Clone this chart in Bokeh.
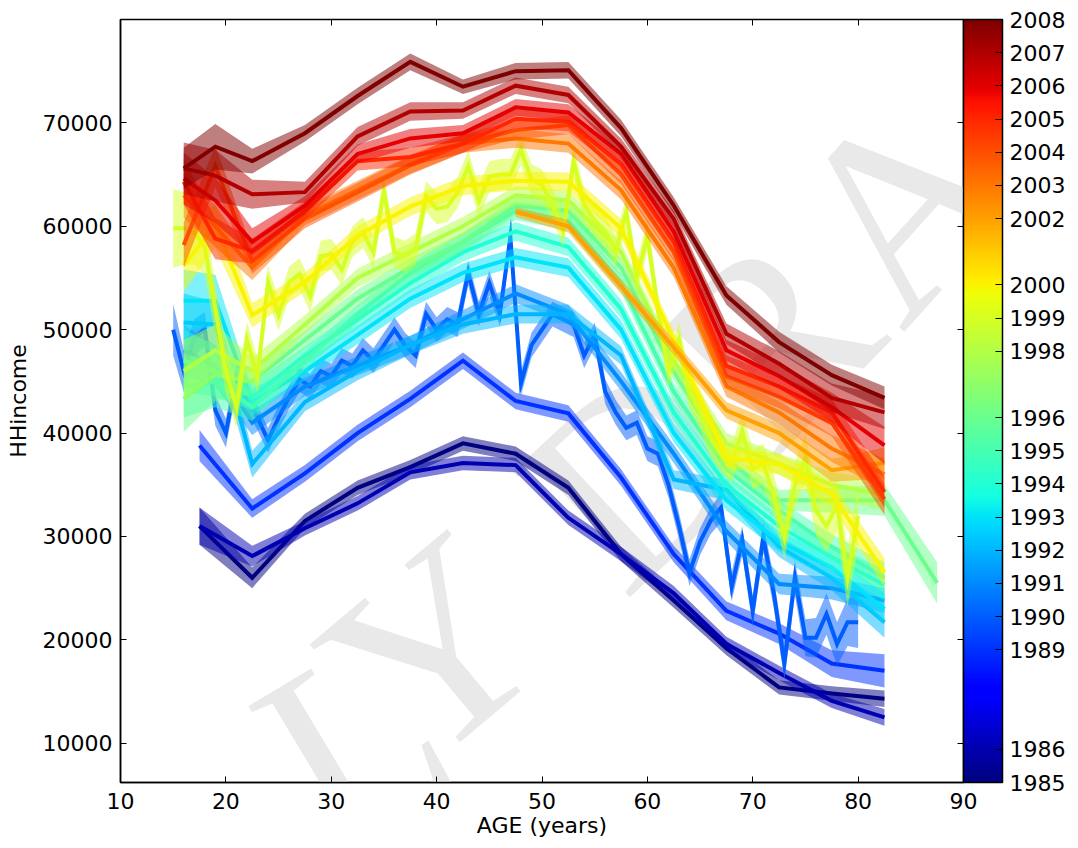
import numpy as np
from bokeh.plotting import figure
from bokeh.models import (ColumnDataSource, LinearAxis, FixedTicker, ColorBar,
                          LinearColorMapper, Label, PrintfTickFormatter, Range1d)
from bokeh.embed import file_html
from bokeh.resources import INLINE

# ---------------- data (incomes and band half-widths in thousands of $) ----------------
AGE_16 = [16, 19, 22.5, 27.5, 32.5, 37.5, 42.5, 47.5, 52.5, 57.5, 62.5, 67.5, 72.5, 77.5, 82.5]
AGE_17 = [17.5, 22.5, 27.5, 32.5, 37.5, 42.5, 47.5, 52.5, 57.5, 62.5, 67.5, 72.5, 77.5, 82.5]
AGE_16_EXT = [16, 19, 22.5, 27.5, 32.5, 37.5, 42.5, 47.5, 52.5, 57.5, 62.5, 67.5, 72.5, 77.5, 82.5, 87.5]
AGE_47 = [47.5, 52.5, 57.5, 62.5, 67.5, 72.5, 77.5, 82.5]
AGE_SINGLE = list(range(15, 81))

inc_1985 = [31.0, 26.0, 31.5, 34.7, 36.7, 39.0, 38.0, 34.7, 28.3, 23.8, 19.2, 15.4, 14.8, 14.3]
err_1985 = [1.8, 1.0, 0.7, 0.7, 0.7, 0.7, 0.7, 0.7, 0.7, 0.7, 0.7, 0.7, 0.7, 0.8]
inc_1986 = [31.0, 28.1, 30.8, 33.2, 36.2, 37.1, 36.9, 31.8, 28.3, 24.5, 19.6, 16.8, 14.1, 12.5]
err_1986 = [1.8, 1.0, 0.7, 0.7, 0.7, 0.7, 0.7, 0.7, 0.7, 0.7, 0.7, 0.7, 0.7, 0.8]
inc_1989 = [38.8, 32.7, 36.1, 40.0, 43.3, 47.0, 43.1, 41.9, 35.7, 28.3, 22.8, 20.6, 17.7, 17.0]
err_1989 = [1.5, 0.9, 0.8, 0.8, 0.8, 0.8, 0.8, 0.8, 0.8, 0.8, 0.9, 1.0, 1.3, 1.6]
inc_1990 = [50.0, 46.0, 49.2, 50.1, 42.2, 40.0, 45.4, 43.2, 41.5, 39.3, 41.5, 43.5, 45.2, 44.5,
            46.0, 45.5, 47.0, 46.5, 48.0, 47.0, 48.5, 50.0, 48.5, 47.5, 51.5, 50.0, 51.0, 50.5,
            55.5, 51.5, 54.5, 51.5, 59.0, 44.8, 48.5, 50.0, 51.5, 51.0, 50.5, 47.5, 49.5, 44.0,
            42.0, 40.5, 41.0, 38.5, 38.0, 35.0, 31.0, 26.5, 29.5, 31.5, 32.8, 25.1, 29.6, 22.8,
            29.9, 24.5, 17.7, 26.0, 20.2, 20.2, 22.5, 19.6, 21.7, 21.7]
err_1990 = [2.5, 2.0, 1.8, 1.6, 1.5, 1.4, 1.3, 1.2, 1.2, 1.2, 1.2, 1.2, 1.2, 1.2,
            1.2, 1.2, 1.2, 1.2, 1.2, 1.2, 1.2, 1.2, 1.2, 1.2, 1.2, 1.2, 1.2, 1.2,
            1.2, 1.2, 1.2, 1.2, 1.2, 1.2, 1.2, 1.2, 1.2, 1.2, 1.2, 1.2, 1.2, 1.2,
            1.2, 1.2, 1.2, 1.2, 1.2, 1.2, 1.3, 1.3, 1.3, 1.3, 1.4, 1.4, 1.4, 1.5,
            1.5, 1.5, 1.6, 1.7, 1.8, 1.9, 2.0, 2.1, 2.3, 2.5]
inc_1991 = [48.0, 46.5, 41.0, 44.5, 46.5, 48.5, 51.0, 53.5, 51.5, 45.0, 38.0, 30.5, 25.4, 25.0, 23.8]
err_1991 = [2.5, 2.0, 1.2, 0.9, 0.9, 0.9, 0.9, 0.9, 0.9, 0.9, 0.9, 1.0, 1.0, 1.1, 1.2]
inc_1992 = [50.7, 50.5, 37.0, 43.0, 46.0, 48.5, 50.5, 51.5, 51.5, 47.5, 35.5, 34.5, 29.0, 26.0, 21.7]
err_1992 = [2.8, 2.2, 1.3, 0.9, 0.9, 0.9, 0.9, 0.9, 0.9, 0.9, 0.9, 1.0, 1.0, 1.2, 1.5]
inc_1993 = [52.8, 52.8, 43.0, 46.0, 49.5, 53.0, 55.5, 57.0, 56.0, 50.0, 40.0, 33.5, 29.5, 27.0, 23.0]
err_1993 = [3.0, 2.5, 1.3, 0.9, 0.9, 0.9, 0.9, 0.9, 0.9, 0.9, 0.9, 1.0, 1.0, 1.2, 1.5]
inc_1994 = [47.0, 46.0, 43.5, 47.5, 51.0, 54.5, 57.5, 59.5, 58.0, 52.0, 42.0, 35.0, 31.0, 28.0, 25.3]
err_1994 = [3.0, 2.5, 1.3, 0.9, 0.9, 0.9, 0.9, 0.9, 0.9, 0.9, 0.9, 1.0, 1.0, 1.2, 1.5]
inc_1995 = [44.5, 45.0, 42.5, 47.0, 51.5, 55.5, 58.5, 61.5, 60.5, 54.5, 44.0, 36.5, 32.5, 29.0, 26.0]
err_1995 = [3.0, 2.5, 1.3, 0.9, 0.9, 0.9, 0.9, 0.9, 0.9, 0.9, 0.9, 1.0, 1.0, 1.2, 1.5]
inc_1996 = [43.3, 45.6, 45.0, 49.0, 53.0, 56.0, 58.5, 62.0, 61.5, 56.0, 46.0, 37.5, 33.5, 33.5, 33.5, 25.5]
err_1996 = [3.2, 2.5, 1.3, 0.9, 0.9, 0.9, 0.9, 0.9, 0.9, 0.9, 0.9, 1.0, 1.0, 1.2, 1.5, 2.0]
inc_1998 = [46.0, 48.0, 46.0, 50.5, 55.0, 57.5, 60.0, 63.0, 62.5, 57.5, 47.0, 39.0, 37.0, 35.0, 34.0]
err_1998 = [3.0, 2.5, 1.3, 0.9, 0.9, 0.9, 0.9, 0.9, 0.9, 0.9, 0.9, 1.0, 1.0, 1.2, 1.5]
inc_1999 = [59.8, 59.8, 59.5, 58.0, 52.0, 46.0, 42.5, 49.0, 45.5, 54.6, 51.4, 54.6, 55.4, 53.2,
            57.1, 57.3, 55.8, 58.5, 59.4, 57.5, 63.4, 57.5, 57.1, 57.8, 62.9, 61.7, 61.9, 63.3,
            65.8, 62.4, 64.8, 65.0, 65.0, 67.4, 64.5, 64.0, 62.1, 59.5, 66.3, 62.1, 60.5, 59.5,
            57.6, 61.4, 55.0, 59.1, 52.0, 46.0, 49.0, 44.0, 42.0, 39.5, 38.0, 37.0, 40.2, 36.5,
            37.0, 34.0, 29.9, 35.0, 37.6, 32.5, 31.0, 33.0, 26.0, 32.0]
err_1999 = [3.8, 3.5, 3.2, 2.8, 2.5, 2.2, 2.0, 1.8, 1.7, 1.6, 1.5, 1.5, 1.5, 1.5,
            1.5, 1.5, 1.5, 1.5, 1.5, 1.5, 1.5, 1.5, 1.5, 1.5, 1.5, 1.5, 1.5, 1.5,
            1.5, 1.5, 1.5, 1.5, 1.5, 1.5, 1.5, 1.5, 1.5, 1.5, 1.5, 1.5, 1.5, 1.5,
            1.5, 1.5, 1.5, 1.6, 1.6, 1.6, 1.7, 1.7, 1.7, 1.8, 1.8, 1.8, 1.9, 1.9,
            2.0, 2.0, 2.1, 2.2, 2.3, 2.4, 2.5, 2.6, 2.8, 3.0]
inc_2000 = [56.2, 60.1, 51.4, 54.6, 59.1, 61.9, 63.9, 64.4, 64.3, 59.8, 49.0, 37.6, 37.0, 34.1, 26.5]
err_2000 = [2.5, 2.2, 1.2, 0.9, 0.9, 0.9, 0.9, 0.9, 0.9, 0.9, 0.9, 1.0, 1.0, 1.2, 1.4]
inc_2002 = [61.4, 60.0, 54.2, 48.3, 42.2, 40.0, 36.4, 37.1]
err_2002 = [0.5, 0.6, 0.7, 0.7, 0.8, 0.9, 1.1, 1.5]
inc_2003 = [63.0, 60.0, 56.0, 61.0, 63.5, 66.0, 68.0, 68.5, 68.0, 63.5, 56.0, 44.5, 42.0, 38.5, 36.0]
err_2003 = [2.2, 2.0, 1.2, 0.9, 0.9, 0.9, 0.9, 0.9, 0.9, 0.9, 0.9, 1.0, 1.1, 1.3, 1.5]
inc_2004 = [58.2, 65.8, 56.6, 60.7, 63.3, 65.9, 68.0, 69.3, 69.8, 65.0, 57.5, 45.5, 43.5, 41.0, 33.6]
err_2004 = [2.2, 2.0, 1.2, 0.9, 0.9, 0.9, 0.9, 0.9, 0.9, 0.9, 0.9, 1.0, 1.1, 1.3, 1.5]
inc_2005 = [64.3, 58.8, 57.6, 61.5, 66.3, 66.7, 68.0, 70.4, 70.1, 66.0, 58.5, 46.5, 44.5, 42.0, 34.3]
err_2005 = [2.2, 2.0, 1.2, 0.9, 0.9, 0.9, 0.9, 0.9, 0.9, 0.9, 0.9, 1.0, 1.1, 1.3, 1.5]
inc_2006 = [64.6, 62.5, 58.5, 62.0, 67.0, 68.5, 69.0, 71.5, 71.0, 67.0, 59.5, 48.0, 45.5, 42.5, 38.8]
err_2006 = [2.5, 2.2, 1.3, 0.9, 0.9, 0.9, 0.8, 0.8, 0.8, 0.8, 0.8, 1.0, 1.2, 1.4, 1.8]
inc_2007 = [65.6, 64.9, 63.1, 63.3, 68.7, 71.1, 71.2, 73.6, 72.7, 67.7, 60.7, 49.6, 46.7, 43.4, 42.0]
err_2007 = [2.5, 2.5, 1.4, 1.0, 0.9, 0.9, 0.8, 0.8, 0.8, 0.8, 0.8, 1.0, 1.2, 1.4, 1.6]
inc_2008 = [65.6, 67.7, 66.3, 69.0, 72.6, 75.9, 73.5, 75.0, 75.1, 69.5, 62.0, 53.3, 48.8, 45.6, 43.4]
err_2008 = [2.0, 2.2, 1.2, 0.8, 0.8, 0.8, 0.7, 0.8, 0.8, 0.8, 0.8, 0.9, 1.0, 1.0, 1.1]

SERIES = [
    (1985, AGE_17, inc_1985, err_1985), (1986, AGE_17, inc_1986, err_1986),
    (1989, AGE_17, inc_1989, err_1989), (1990, AGE_SINGLE, inc_1990, err_1990),
    (1991, AGE_16, inc_1991, err_1991), (1992, AGE_16, inc_1992, err_1992),
    (1993, AGE_16, inc_1993, err_1993), (1994, AGE_16, inc_1994, err_1994),
    (1995, AGE_16, inc_1995, err_1995), (1996, AGE_16_EXT, inc_1996, err_1996),
    (1998, AGE_16, inc_1998, err_1998), (1999, AGE_SINGLE, inc_1999, err_1999),
    (2000, AGE_16, inc_2000, err_2000), (2002, AGE_47, inc_2002, err_2002),
    (2003, AGE_16, inc_2003, err_2003), (2004, AGE_16, inc_2004, err_2004),
    (2005, AGE_16, inc_2005, err_2005), (2006, AGE_16, inc_2006, err_2006),
    (2007, AGE_16, inc_2007, err_2007), (2008, AGE_16, inc_2008, err_2008),
]
YEARS = [s[0] for s in SERIES]
X_TICKS = [10, 20, 30, 40, 50, 60, 70, 80, 90]
Y_TICKS = [10000, 20000, 30000, 40000, 50000, 60000, 70000]
UNIT = 1000.0
Y0, Y1 = 1985, 2008


def jet(v):
    r = np.interp(v, [0, 0.35, 0.66, 0.89, 1], [0, 0, 1, 1, 0.5])
    g = np.interp(v, [0, 0.125, 0.375, 0.64, 0.91, 1], [0, 0, 1, 1, 0, 0])
    b = np.interp(v, [0, 0.11, 0.34, 0.65, 1], [0.5, 1, 1, 0, 0])
    return "#%02x%02x%02x" % (int(round(r * 255)), int(round(g * 255)), int(round(b * 255)))


FONT = "DejaVu Sans"
W, H = 1076, 844
BL, BT = 120, 19
FRAME_R, FRAME_B = 963, 782
BR, BB = W - FRAME_R, H - FRAME_B
FW, FH = FRAME_R - BL, FRAME_B - BT
p = figure(width=W, height=H, x_range=Range1d(10, 90), y_range=Range1d(6200, 80000),
           output_backend="svg", toolbar_location=None,
           min_border_left=BL, min_border_right=BR, min_border_top=BT, min_border_bottom=BB)
p.background_fill_color = "white"
p.border_fill_color = "white"
p.outline_line_color = "black"
p.outline_line_width = 1.5
p.grid.visible = False

# watermark: light grey serif letters along an arc (page position of letter centre, rotation deg)
WM = [("L", 353, 740, 31), ("Y", 433, 649, 40), ("D", 633, 473, 43),
      ("R", 768, 340, 46), ("A", 900, 204, 48)]
for ch, px, py, ang in WM:
    p.add_layout(Label(x=px - BL, y=FRAME_B - py, x_units="screen", y_units="screen", text=ch,
                       angle=np.deg2rad(ang), text_align="center", text_baseline="middle",
                       text_font="Liberation Serif", text_font_size="262px",
                       text_color="#e9e9e9", level="underlay"))

for year, ages, inc, err in SERIES:
    c = jet((year - Y0) / (Y1 - Y0))
    y = np.array(inc) * UNIT
    e = np.array(err) * UNIT
    src = ColumnDataSource(dict(x=ages, y=y, lo=y - e, hi=y + e))
    p.varea(x="x", y1="lo", y2="hi", source=src, fill_color=c, fill_alpha=0.5)
    p.line(x="x", y="y", source=src, line_color=c, line_width=4, line_join="miter")

for ax in (p.xaxis[0], p.yaxis[0]):
    ax.major_tick_in = 6
    ax.major_tick_out = 0
    ax.minor_tick_in = 0
    ax.minor_tick_out = 0
    ax.major_tick_line_color = "black"
    ax.axis_line_color = "black"
    ax.axis_line_width = 1.5
    ax.major_label_text_font = FONT
    ax.major_label_text_font_size = "22px"
    ax.major_label_text_color = "black"
    ax.axis_label_text_font = FONT
    ax.axis_label_text_font_size = "22px"
    ax.axis_label_text_font_style = "normal"
    ax.axis_label_text_color = "black"
p.xaxis[0].major_label_standoff = 10
p.xaxis[0].axis_label_standoff = 1
p.yaxis[0].major_label_standoff = 8
p.yaxis[0].axis_label_standoff = 9
p.xaxis[0].ticker = FixedTicker(ticks=X_TICKS)
p.yaxis[0].ticker = FixedTicker(ticks=Y_TICKS)
p.yaxis[0].formatter = PrintfTickFormatter(format="%d")
p.xaxis[0].axis_label = "AGE (years)"
p.yaxis[0].axis_label = "HHincome"

# inward ticks on the top and right spines (no labels)
for side, ticks in (("above", X_TICKS), ("right", Y_TICKS)):
    ax = LinearAxis(ticker=FixedTicker(ticks=ticks), major_tick_in=6, major_tick_out=0,
                    minor_tick_in=0, minor_tick_out=0, axis_line_color=None,
                    major_tick_line_color="black",
                    major_label_text_color=None, major_label_text_font_size="0px",
                    major_label_standoff=0)
    p.add_layout(ax, side)

mapper = LinearColorMapper(palette=[jet(i / 255.0) for i in range(256)], low=Y0, high=Y1)
cb = ColorBar(color_mapper=mapper, width=39, height=FH, location=(FW, 0),
              padding=0, margin=0,
              ticker=FixedTicker(ticks=YEARS), formatter=PrintfTickFormatter(format="%d"),
              major_label_text_font=FONT, major_label_text_font_size="22px",
              major_label_text_color="black",
              major_tick_in=7, major_tick_out=0, major_tick_line_color="black",
              minor_tick_line_color=None,
              bar_line_color="black", bar_line_width=1.5, label_standoff=7,
              border_line_color=None, background_fill_color=None)
p.add_layout(cb, "center")

open("out.html", "w").write(file_html(p, INLINE))
